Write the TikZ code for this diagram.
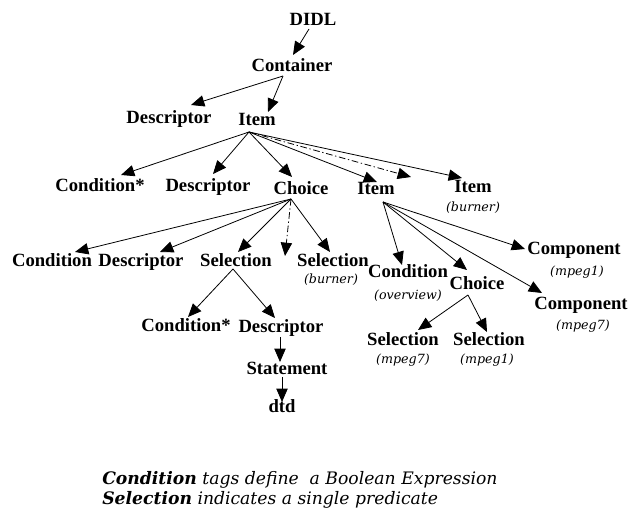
\documentclass[tikz,border=0pt]{standalone}
\usepackage{fontspec}
\setmainfont{Liberation Serif}
\newfontfamily\legfont{DejaVu Serif}
\usetikzlibrary{arrows.meta,calc}
\tikzset{
  lbl/.style={inner sep=0pt, font=\fontsize{14}{16}\selectfont\bfseries, text height=9pt, text depth=2.5pt},
  sub/.style={inner sep=0pt, font=\legfont\fontsize{9.5}{11}\selectfont\itshape},
  arr/.style={line width=0.6pt, -{Triangle[length=10pt,width=8.5pt]}},
  dsh/.style={arr, dash pattern=on 5pt off 2pt on 1pt off 2pt},
  leg/.style={inner sep=0pt, anchor=west, font=\legfont\fontsize{12.9}{15}\selectfont\itshape}
}
\begin{document}
\begin{tikzpicture}[x=0.75pt,y=-0.75pt]
\path[use as bounding box, fill=white] (0,0) rectangle (629,509);
% nodes
\node[lbl] (didl) at (313,21) {DIDL};
\node[lbl] (cont) at (292,67) {Container};
\node[lbl] (desc0) at (169,119) {Descriptor};
\node[lbl] (item1) at (257,121) {Item};
\node[lbl] (cond1) at (100,187) {Condition*};
\node[lbl] (desc1) at (208,187) {Descriptor};
\node[lbl] (choice1) at (301,190) {Choice};
\node[lbl] (item2) at (376,190) {Item};
\node[lbl] (item3) at (473,188) {Item};
\node[sub] (burner3) at (473,208) {(burner)};
\node[lbl] (cond2) at (52,262) {Condition};
\node[lbl] (desc2) at (141,262) {Descriptor};
\node[lbl] (sel1) at (236,262) {Selection};
\node[lbl] (sel2) at (333,262) {Selection};
\node[sub] (burner2) at (331,280) {(burner)};
\node[lbl] (cond3) at (186,327) {Condition*};
\node[lbl] (desc3) at (281,328) {Descriptor};
\node[lbl] (stmt) at (287,370) {Statement};
\node[lbl] (dtd) at (282,408) {dtd};
\node[lbl] (cond4) at (408,273) {Condition};
\node[sub] (ov) at (408,296) {(overview)};
\node[lbl] (choice2) at (477,285) {Choice};
\node[lbl] (comp1) at (574,250) {Component};
\node[sub] (m1) at (577,272) {(mpeg1)};
\node[lbl] (comp2) at (581,305) {Component};
\node[sub] (m2) at (583,326) {(mpeg7)};
\node[lbl] (sel3) at (403,341) {Selection};
\node[sub] (m3) at (403,360) {(mpeg7)};
\node[lbl] (sel4) at (489,341) {Selection};
\node[sub] (m4) at (487,360) {(mpeg1)};
\coordinate (d1) at (411,177);
\coordinate (d2) at (285,256);
% legend
\node[leg] (leg1) at (102,480) {{\bfseries Condition} tags define \ a Boolean Expression};
\node[leg] (leg2) at (102,500) {{\bfseries Selection} indicates a single predicate};
% connectors
\draw[arr] ($(didl)+(-4,8)$) -- ($(cont)+(1,-12)$);
\draw[arr] ($(cont)+(-9,9)$) -- ($(desc0)+(22,-14)$);
\draw[arr] ($(cont)+(-9,9)$) -- ($(item1)+(11,-9)$);
\draw[arr] ($(item1)+(-8,11)$) -- ($(cond1)+(21,-12)$);
\draw[arr] ($(item1)+(-8,11)$) -- ($(desc1)+(5,-13)$);
\draw[arr] ($(item1)+(-8,11)$) -- ($(choice1)+(-9,-13)$);
\draw[arr] ($(item1)+(-8,11)$) -- ($(item2)+(1,-8)$);
\draw[dsh] ($(item1)+(-8,11)$) -- (d1);
\draw[arr] ($(item1)+(-8,11)$) -- ($(item3)+(-11,-10)$);
\draw[arr] ($(choice1)+(-10,9)$) -- ($(cond2)+(23,-10)$);
\draw[arr] ($(choice1)+(-10,9)$) -- ($(desc2)+(19,-10)$);
\draw[arr] ($(choice1)+(-10,9)$) -- ($(sel1)+(2,-10)$);
\draw[dsh] ($(choice1)+(-10,9)$) -- (d2);
\draw[arr] ($(choice1)+(-10,9)$) -- ($(sel2)+(-3,-10)$);
\draw[arr] ($(sel1)+(-3,7)$) -- ($(cond3)+(2,-10)$);
\draw[arr] ($(sel1)+(-3,7)$) -- ($(desc3)+(-6,-10)$);
\draw[arr] ($(desc3)+(-1,9)$) -- ($(stmt)+(-7,-8)$);
\draw[arr] ($(stmt)+(-5,7)$) -- ($(dtd)+(0,-6)$);
\draw[arr] ($(item2)+(7,12)$) -- ($(cond4)+(-6,-8)$);
\draw[arr] ($(item2)+(7,12)$) -- ($(choice2)+(-10,-15)$);
\draw[arr] ($(item2)+(7,12)$) -- ($(comp1)+(-49,-1)$);
\draw[arr] ($(item2)+(7,12)$) -- ($(comp2)+(-39,-12)$);
\draw[arr] ($(choice2)+(-9,10)$) -- ($(sel3)+(15,-11)$);
\draw[arr] ($(choice2)+(-9,10)$) -- ($(sel4)+(-2,-9)$);
\end{tikzpicture}
\end{document}
